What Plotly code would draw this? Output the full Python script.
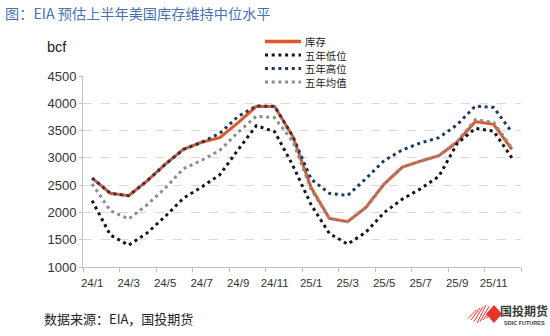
import plotly.graph_objects as go

# Monthly natural gas storage, bcf (Jan 2024 - Dec 2025)
months = ["24/1", "24/2", "24/3", "24/4", "24/5", "24/6", "24/7", "24/8", "24/9", "24/10", "24/11", "24/12",
          "25/1", "25/2", "25/3", "25/4", "25/5", "25/6", "25/7", "25/8", "25/9", "25/10", "25/11", "25/12"]
storage = [2630, 2350, 2305, 2575, 2880, 3155, 3285, 3370, 3645, 3945, 3940, 3390,
           2455, 1890, 1830, 2090, 2520, 2830, 2940, 3040, 3290, 3665, 3615, 3155]
low5 = [2216, 1585, 1400, 1620, 1925, 2260, 2465, 2690, 3150, 3590, 3480, 2860,
        2140, 1614, 1420, 1637, 1998, 2244, 2434, 2660, 3263, 3540, 3490, 3000]
high5 = [2630, 2350, 2305, 2575, 2880, 3155, 3285, 3450, 3760, 3950, 3945, 3390,
         2610, 2350, 2310, 2620, 2950, 3145, 3275, 3370, 3607, 3950, 3925, 3470]
avg5 = [2524, 2030, 1880, 2136, 2445, 2800, 2955, 3140, 3470, 3765, 3735, 3300,
        2420, 1890, 1830, 2090, 2520, 2830, 2940, 3040, 3300, 3700, 3650, 3180]

names = ["库存", "五年低位", "五年高位", "五年均值"]
colors = ["#E0562B", "#151515", "#1F3864", "#8C8C8C"]
DOT = "3px,3.7px"

W, H = 550, 336
L, R, T, B = 83, 521, 76, 267   # plot area in pixels


def px(x):
    return (x - L) / (R - L)


def py(y):
    return (B - y) / (B - T)


idx = list(range(len(months)))
fig = go.Figure()
fig.add_trace(go.Scatter(x=idx, y=storage, mode="lines", name=names[0],
                         line=dict(color=colors[0], width=3)))
for vals, nm, col in [(low5, names[1], colors[1]), (high5, names[2], colors[2]), (avg5, names[3], colors[3])]:
    fig.add_trace(go.Scatter(x=idx, y=vals, mode="lines", name=nm,
                             line=dict(color=col, width=3, dash=DOT)))

tick_font = dict(family="Liberation Sans, Arial, sans-serif", color="#333333")
cjk = "Noto Sans CJK SC, sans-serif"

fig.update_layout(
    width=W, height=H,
    margin=dict(l=L, r=W - R, t=T, b=H - B),
    paper_bgcolor="white", plot_bgcolor="white",
    showlegend=False,
    xaxis=dict(range=[-0.5, 23.5], tickmode="array", tickvals=idx[::2], ticktext=months[::2],
               ticks="", showline=True, linecolor="#BFBFBF", linewidth=1, showgrid=False,
               zeroline=False, ticklabelstandoff=5, tickfont=dict(size=11.5, **tick_font),
               minor=dict(tickmode="linear", tick0=-0.5, dtick=2, ticks="outside",
                          ticklen=4, tickcolor="#BFBFBF", showgrid=False)),
    yaxis=dict(range=[1000, 4500], dtick=500, tick0=1000, ticks="outside", ticklen=3,
               tickcolor="#BFBFBF", showline=True, linecolor="#BFBFBF", linewidth=1,
               showgrid=True, gridcolor="#D9D9D9", griddash="dash", gridwidth=1,
               zeroline=False, tickfont=dict(size=13, **tick_font)),
)

ann = []
shapes = []
# title, unit, source
ann.append(dict(text="图：EIA 预估上半年美国库存维持中位水平", x=px(3), y=py(13), xref="paper", yref="paper",
                xanchor="left", yanchor="middle", showarrow=False,
                font=dict(family=cjk, size=14.2, color="#4A72B0")))
ann.append(dict(text="bcf", x=px(57), y=py(47), xref="paper", yref="paper",
                xanchor="center", yanchor="middle", showarrow=False,
                font=dict(family="Liberation Sans, Arial, sans-serif", size=14.5, color="#222222")))
ann.append(dict(text="数据来源：EIA，国投期货", x=px(42), y=py(318), xref="paper", yref="paper",
                xanchor="left", yanchor="middle", showarrow=False,
                font=dict(family=cjk, size=13, color="#222222")))

# legend: line samples plus one multi-line label block
rows = [41.5, 55.0, 68.5, 82.0]
for col, yy, k in zip(colors, rows, range(4)):
    shapes.append(dict(type="line", xref="paper", yref="paper", x0=px(265), x1=px(301),
                       y0=py(yy), y1=py(yy),
                       line=dict(color=col, width=3.5 if k == 0 else 3, dash="solid" if k == 0 else DOT)))
ann.append(dict(text="<br>".join(names), x=px(304), y=py(sum(rows) / 4), xref="paper", yref="paper",
                xanchor="left", yanchor="middle", align="left", showarrow=False, borderpad=0,
                font=dict(family=cjk, size=10.4, color="#222222")))

# company mark
red = "#E8332A"
for k in range(7):
    x0 = 468 + k * 3
    shapes.append(dict(type="line", xref="paper", yref="paper",
                       x0=px(x0), y0=py(323 - abs(3 - k) * 1.5),
                       x1=px(x0 + 9), y1=py(305 + abs(3 - k) * 1.5),
                       line=dict(color=red, width=1)))
shapes.append(dict(type="path", xref="paper", yref="paper",
                   path=f"M {px(486)} {py(314)} L {px(494)} {py(305)} L {px(502)} {py(314)} L {px(494)} {py(323)} Z",
                   fillcolor=red, line=dict(width=0)))
ann.append(dict(text="<b>国投期货</b>", x=px(524), y=py(310), xref="paper", yref="paper",
                xanchor="center", yanchor="middle", showarrow=False, borderpad=0,
                font=dict(family=cjk, size=12, color="#3A3A3A")))
ann.append(dict(text="<b>SDIC FUTURES</b>", x=px(524), y=py(323), xref="paper", yref="paper",
                xanchor="center", yanchor="middle", showarrow=False, borderpad=0,
                font=dict(family="Liberation Sans, Arial, sans-serif", size=5.5, color="#3A3A3A")))

fig.update_layout(annotations=ann, shapes=shapes)
fig.write_html("out.html")
